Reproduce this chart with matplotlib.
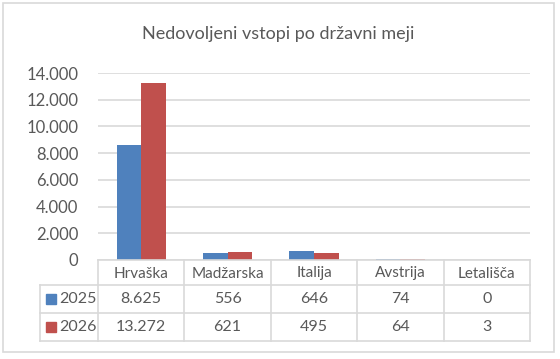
import numpy as np
import matplotlib
matplotlib.use('Agg')
import matplotlib.pyplot as plt
from matplotlib.ticker import FuncFormatter

categories = ['Hrvaška', 'Madžarska', 'Italija', 'Avstrija', 'Letališča']
series_names = ['2025', '2026']
vals_2025 = [8625, 556, 646, 74, 0]
vals_2026 = [13272, 621, 495, 64, 3]
title = 'Nedovoljeni vstopi po državni meji'

blue = '#4f81bd'
red = '#c0504d'
grid_col = '#d9d9d9'
txt_col = '#595959'

plt.rcParams['font.family'] = ['Lato', 'DejaVu Sans']

W, H = 560, 359
fig = plt.figure(figsize=(W / 100, H / 100), dpi=100)

# pixel helper -> figure fraction
def fx(px):
    return px / W

def fy(py):
    return 1 - py / H

# plot area (pixels)
left, right, top, zero = 98, 530, 73, 260
ax = fig.add_axes([fx(left), fy(zero), fx(right - left), (zero - top) / H])
x = np.arange(len(categories))
bw = 1 / 3.5
ax.bar(x - bw / 2, vals_2025, bw, color=blue, zorder=3)
ax.bar(x + bw / 2, vals_2026, bw, color=red, zorder=3)
ax.set_xlim(-0.5, len(categories) - 0.5)
ax.set_ylim(0, 14000)
ax.set_yticks(np.arange(0, 14001, 2000))
ax.yaxis.set_major_formatter(FuncFormatter(lambda v, p: f'{int(v):,}'.replace(',', '.')))
ax.grid(axis='y', color=grid_col, lw=1.2, zorder=0)
ax.set_xticks([])
for s in ax.spines.values():
    s.set_visible(False)
ax.tick_params(axis='y', length=0, pad=14, labelsize=12, labelcolor=txt_col)

# overlay in pixel coordinates for table, title and frame
ov = fig.add_axes([0, 0, 1, 1], zorder=-1)
ov.set_xlim(0, W)
ov.set_ylim(H, 0)
ov.axis('off')
ov2 = fig.add_axes([0, 0, 1, 1])
ov2.set_xlim(0, W)
ov2.set_ylim(H, 0)
ov2.axis('off')

ov.add_patch(plt.Rectangle((3, 3), 551, 349, fill=False, ec=grid_col, lw=1.2))
ov2.text(278, 34, title, ha='center', va='center', fontsize=13, color=txt_col)

# data table
col_w = (right - left) / len(categories)
col_x = [left + i * col_w for i in range(len(categories) + 1)]
rows_y = [zero, 285, 313, 341]
leg_left = 40
lc = grid_col
for cx in col_x:
    ov2.plot([cx, cx], [rows_y[0], rows_y[-1]], color=lc, lw=1.2)
ov2.plot([left, right], [rows_y[0], rows_y[0]], color=lc, lw=1.2)
for ry in rows_y[1:]:
    ov2.plot([leg_left, right], [ry, ry], color=lc, lw=1.2)
ov2.plot([leg_left, leg_left], [rows_y[1], rows_y[-1]], color=lc, lw=1.2)

for i, cat in enumerate(categories):
    cx = (col_x[i] + col_x[i + 1]) / 2
    ov2.text(cx, (rows_y[0] + rows_y[1]) / 2 + 1, cat, ha='center', va='center',
             fontsize=11, color=txt_col)
    for r, vals in enumerate([vals_2025, vals_2026]):
        ry = (rows_y[r + 1] + rows_y[r + 2]) / 2
        ov2.text(cx, ry, f'{vals[i]:,}'.replace(',', '.'), ha='center', va='center',
                 fontsize=11.5, color=txt_col)

for r, (name, c) in enumerate(zip(series_names, [blue, red])):
    ry = (rows_y[r + 1] + rows_y[r + 2]) / 2
    ov2.add_patch(plt.Rectangle((46, ry - 5), 10, 10, color=c))
    ov2.text(59, ry, name, ha='left', va='center', fontsize=11.5, color=txt_col)

fig.savefig('out.png', dpi=100, facecolor='white')
